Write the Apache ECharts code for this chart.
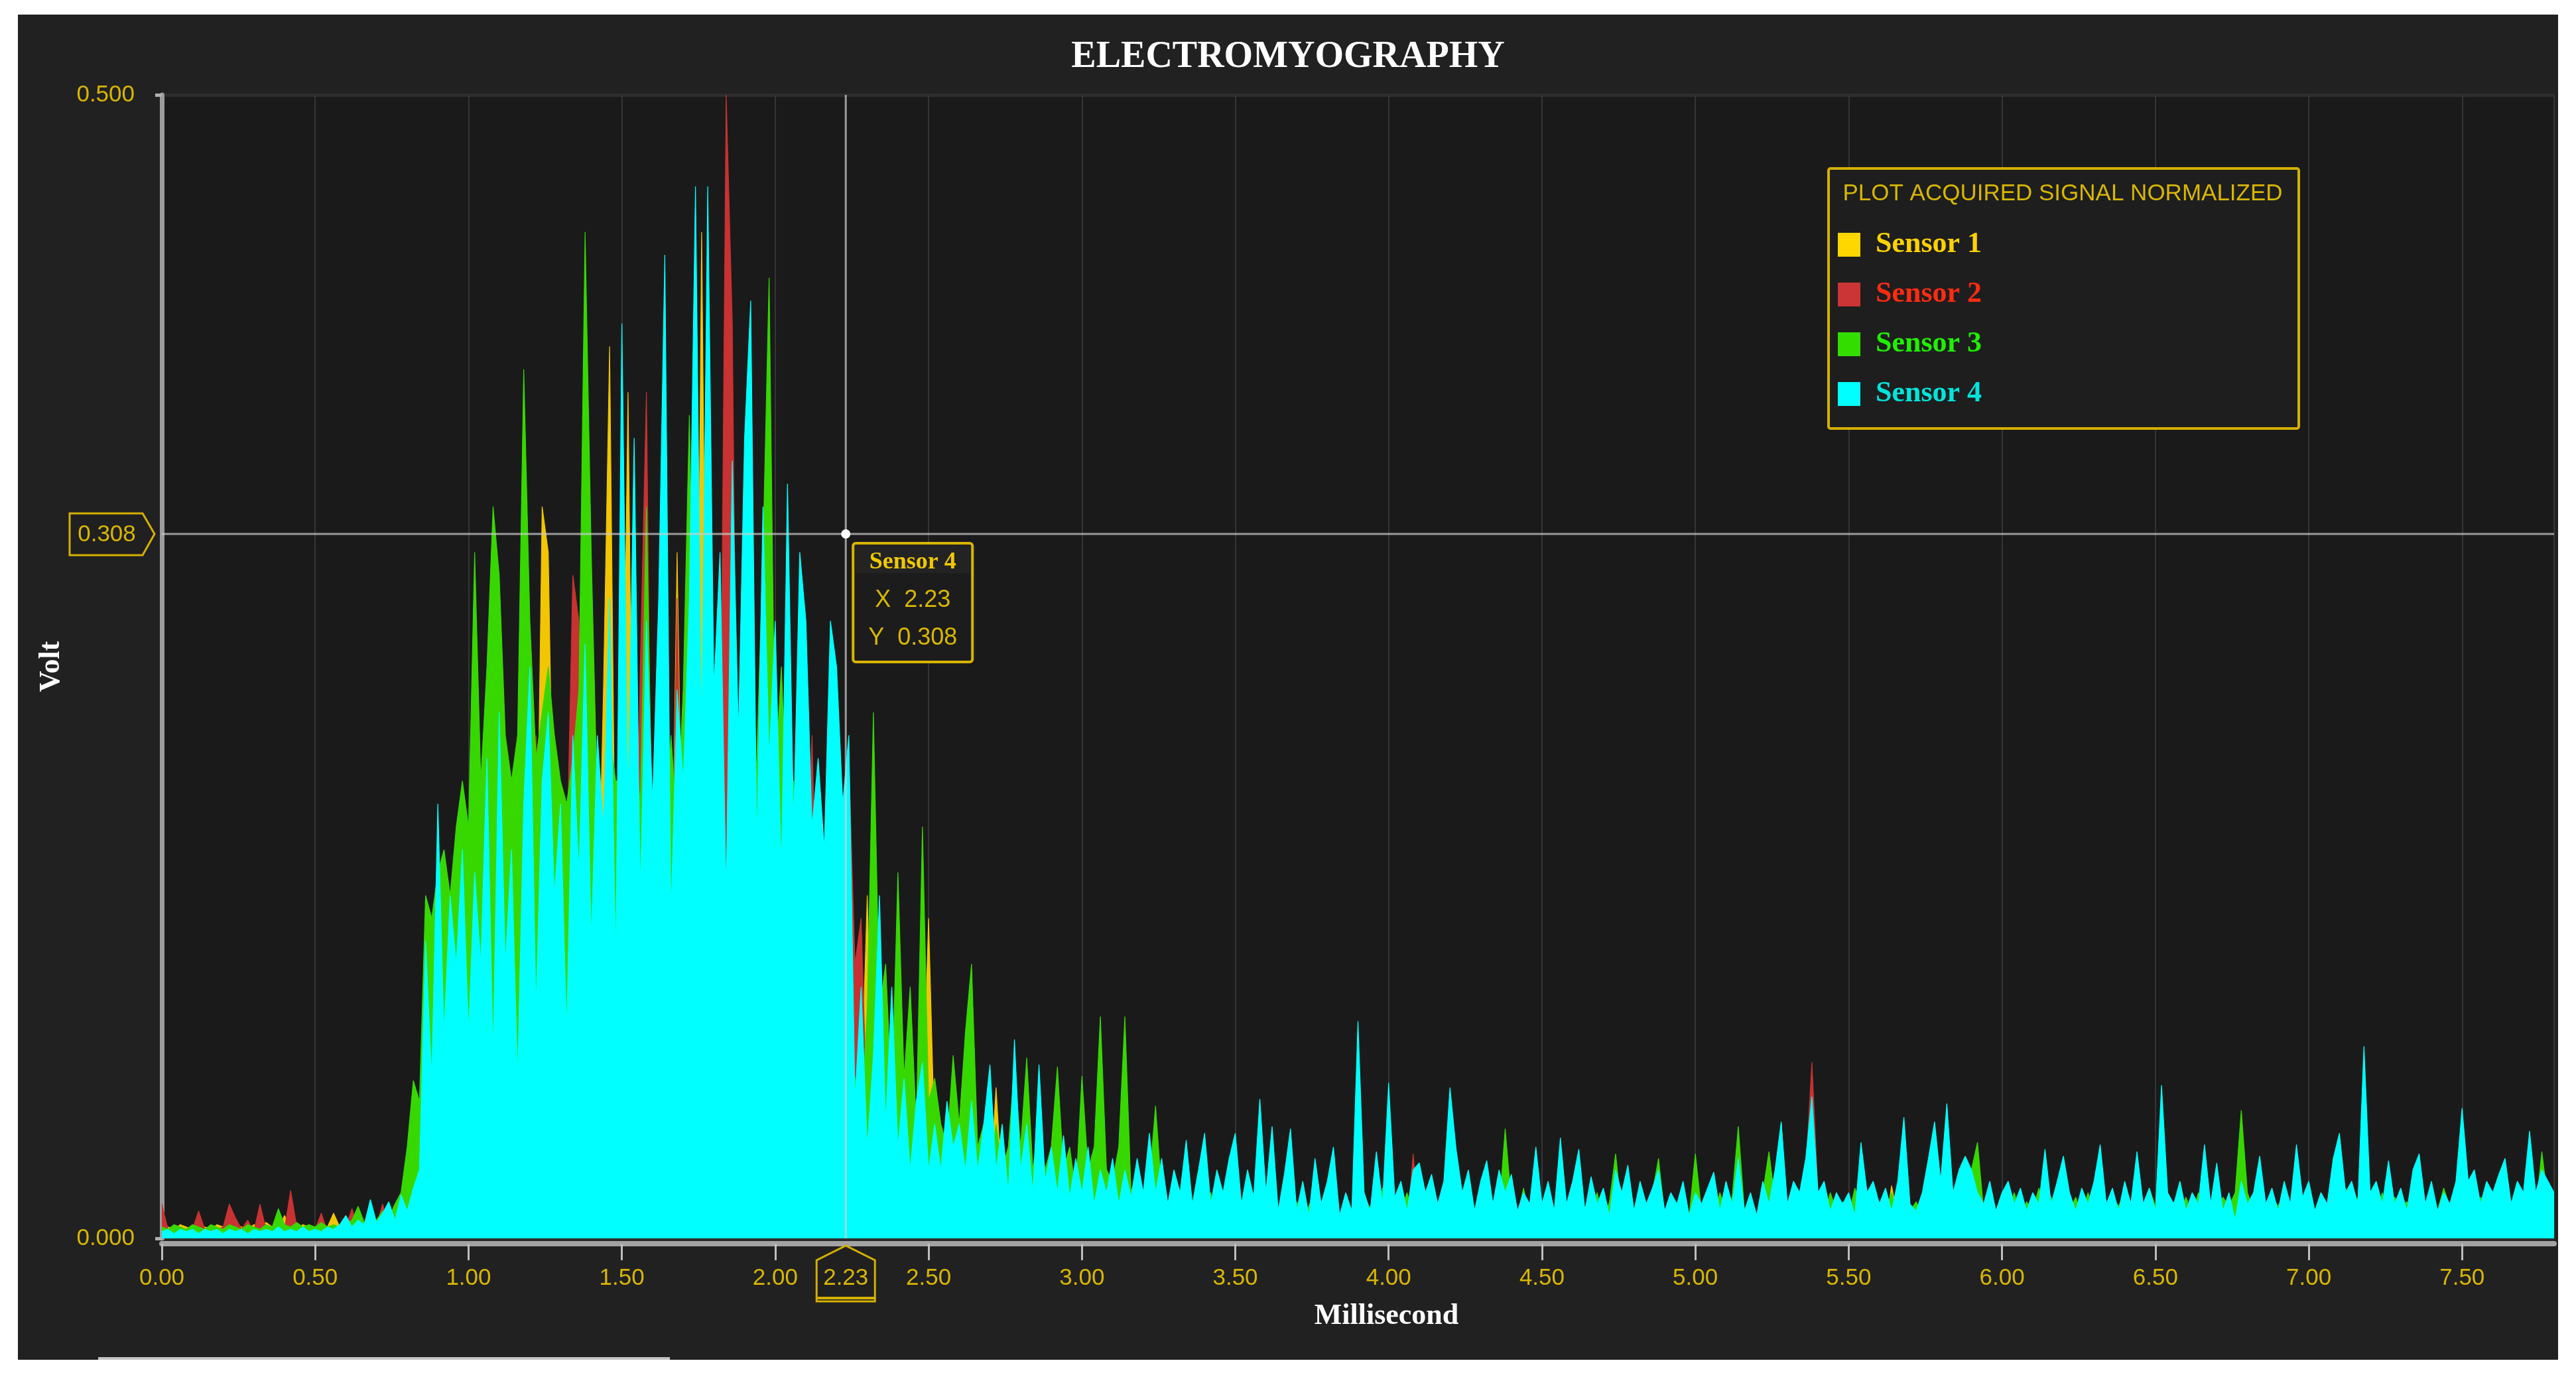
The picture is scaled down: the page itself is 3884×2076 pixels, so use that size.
<!DOCTYPE html>
<html>
<head>
<meta charset="utf-8">
<script src="https://cdn.jsdelivr.net/npm/echarts@6/dist/echarts.min.js"></script>
<style>
html,body{margin:0;padding:0;background:#ffffff;width:3884px;height:2076px;overflow:hidden}
#chart{position:absolute;left:27px;top:22px;width:3830px;height:2028px}
</style>
</head>
<body>
<div id="chart"></div>
<script>
// ---------------- DATA ----------------
const SAMPLE_STEP_MS = 0.02;           // one sample every 0.02 ms, 0.00 .. 7.80
const X_MIN = 0, X_MAX = 7.8, X_INTERVAL = 0.5;
const Y_MIN = 0, Y_MAX = 0.5, Y_INTERVAL = 0.5;
const SENSOR_NAMES = ['Sensor 1', 'Sensor 2', 'Sensor 3', 'Sensor 4'];
const CROSS_SERIES = 'Sensor 4';
const CROSS_X = 2.23;
const CROSS_Y = 0.308;

const SENSOR_1 = [
/*0.00*/ .006,.005,.004,.006,.005,.004,.006,.005,.004,.006,
/*0.20*/ .005,.004,.006,.005,.004,.006,.005,.007,.005,.004,
/*0.40*/ .010,.005,.004,.006,.005,.004,.006,.005,.011,.005,
/*0.60*/ .006,.005,.007,.006,.008,.006,.008,.007,.009,.012,
/*0.80*/ .015,.020,.041,.08,.06,.11,.07,.09,.12,.08,
/*1.00*/ .11,.07,.13,.09,.12,.25,.10,.13,.09,.14,
/*1.20*/ .18,.12,.32,.30,.14,.10,.13,.09,.14,.11,
/*1.40*/ .16,.12,.24,.39,.13,.16,.37,.12,.15,.10,
/*1.60*/ .14,.12,.16,.11,.30,.13,.15,.11,.44,.16,
/*1.80*/ .21,.12,.15,.10,.14,.11,.13,.09,.12,.10,
/*2.00*/ .13,.09,.11,.08,.12,.09,.10,.07,.09,.06,
/*2.20*/ .08,.05,.07,.04,.06,.15,.05,.04,.03,.05,
/*2.40*/ .03,.04,.02,.03,.05,.14,.04,.02,.03,.02,
/*2.60*/ .03,.02,.025,.02,.03,.02,.066,.02,.015,.01,
/*2.80*/ .012,.008,.01,.006,.009,.007,.011,.006,.008,.005,
/*3.00*/ .009,.006,.008,.005,.01,.006,.008,.005,.007,.009,
/*3.20*/ .006,.008,.005,.01,.007,.006,.009,.005,.008,.006,
/*3.40*/ .007,.01,.005,.008,.006,.009,.005,.007,.006,.008,
/*3.60*/ .005,.009,.006,.007,.01,.005,.008,.006,.009,.005,
/*3.80*/ .008,.006,.007,.005,.009,.006,.008,.005,.01,.006,
/*4.00*/ .007,.005,.009,.006,.008,.005,.007,.01,.006,.008,
/*4.20*/ .005,.009,.006,.007,.005,.008,.006,.009,.005,.007,
/*4.40*/ .006,.008,.005,.01,.006,.007,.005,.009,.006,.008,
/*4.60*/ .005,.007,.009,.006,.008,.005,.007,.006,.01,.005,
/*4.80*/ .008,.006,.007,.005,.009,.006,.008,.005,.007,.006,
/*5.00*/ .009,.005,.008,.006,.007,.01,.005,.008,.006,.009,
/*5.20*/ .005,.007,.006,.008,.005,.009,.006,.007,.005,.008,
/*5.40*/ .006,.009,.005,.007,.006,.008,.01,.005,.007,.006,
/*5.60*/ .009,.005,.023,.008,.006,.007,.005,.009,.006,.008,
/*5.80*/ .005,.007,.006,.009,.005,.008,.006,.007,.01,.005,
/*6.00*/ .008,.006,.009,.005,.007,.006,.008,.005,.009,.006,
/*6.20*/ .007,.005,.008,.006,.01,.005,.007,.006,.009,.005,
/*6.40*/ .008,.006,.007,.005,.009,.006,.008,.005,.007,.01,
/*6.60*/ .005,.008,.006,.009,.005,.007,.006,.008,.005,.009,
/*6.80*/ .006,.007,.005,.008,.006,.009,.005,.007,.006,.008,
/*7.00*/ .01,.005,.008,.006,.007,.005,.009,.006,.008,.005,
/*7.20*/ .007,.006,.009,.005,.008,.006,.007,.01,.005,.008,
/*7.40*/ .006,.009,.005,.007,.006,.008,.005,.009,.006,.007,
/*7.60*/ .005,.008,.006,.01,.005,.007,.006,.009,.005,.008,
/*7.80*/ .006
];

const SENSOR_2 = [
/*0.00*/ .015,.004,.003,.005,.003,.004,.012,.004,.003,.004,
/*0.20*/ .005,.015,.009,.004,.008,.003,.015,.004,.003,.005,
/*0.40*/ .004,.021,.005,.004,.003,.004,.011,.003,.004,.003,
/*0.60*/ .005,.013,.004,.005,.004,.006,.015,.005,.006,.008,
/*0.80*/ .010,.020,.030,.08,.05,.10,.06,.12,.18,.07,
/*1.00*/ .09,.05,.11,.06,.12,.07,.10,.05,.13,.08,
/*1.20*/ .12,.22,.10,.14,.09,.12,.16,.29,.27,.10,
/*1.40*/ .13,.08,.12,.09,.14,.10,.13,.09,.25,.37,
/*1.60*/ .12,.10,.14,.11,.28,.12,.10,.15,.09,.13,
/*1.80*/ .11,.18,.50,.40,.12,.15,.10,.14,.29,.12,
/*2.00*/ .10,.13,.09,.12,.10,.14,.22,.10,.08,.11,
/*2.20*/ .07,.09,.21,.12,.14,.05,.03,.02,.025,.015,
/*2.40*/ .02,.012,.018,.01,.015,.008,.012,.01,.014,.008,
/*2.60*/ .012,.006,.01,.008,.012,.006,.01,.008,.012,.006,
/*2.80*/ .009,.005,.011,.006,.008,.004,.01,.006,.007,.005,
/*3.00*/ .008,.004,.01,.006,.009,.005,.007,.004,.011,.006,
/*3.20*/ .007,.005,.009,.004,.008,.006,.01,.005,.007,.004,
/*3.40*/ .009,.006,.008,.004,.01,.005,.007,.006,.009,.004,
/*3.60*/ .008,.005,.011,.006,.007,.004,.009,.005,.008,.006,
/*3.80*/ .01,.004,.007,.005,.009,.006,.008,.004,.01,.005,
/*4.00*/ .007,.006,.009,.005,.037,.006,.008,.004,.01,.005,
/*4.20*/ .007,.004,.009,.006,.008,.005,.01,.004,.007,.006,
/*4.40*/ .009,.005,.008,.004,.01,.006,.007,.005,.009,.004,
/*4.60*/ .008,.006,.01,.005,.007,.004,.009,.006,.008,.005,
/*4.80*/ .01,.004,.007,.006,.009,.005,.008,.004,.01,.006,
/*5.00*/ .007,.005,.009,.004,.008,.006,.01,.005,.007,.004,
/*5.20*/ .009,.006,.008,.005,.01,.004,.007,.006,.03,.077,
/*5.40*/ .02,.006,.008,.004,.01,.005,.007,.006,.009,.004,
/*5.60*/ .008,.005,.01,.006,.007,.004,.009,.005,.008,.006,
/*5.80*/ .01,.004,.007,.005,.009,.006,.008,.004,.01,.005,
/*6.00*/ .007,.006,.009,.005,.008,.004,.01,.006,.007,.005,
/*6.20*/ .009,.004,.008,.006,.01,.005,.007,.004,.009,.006,
/*6.40*/ .008,.005,.01,.004,.007,.006,.009,.005,.008,.004,
/*6.60*/ .01,.006,.007,.005,.009,.004,.008,.006,.01,.005,
/*6.80*/ .007,.004,.009,.006,.008,.005,.01,.004,.007,.006,
/*7.00*/ .009,.005,.008,.004,.01,.006,.007,.005,.009,.004,
/*7.20*/ .008,.006,.01,.005,.007,.004,.009,.006,.008,.005,
/*7.40*/ .01,.004,.007,.006,.009,.005,.008,.004,.01,.006,
/*7.60*/ .007,.005,.009,.004,.008,.006,.01,.005,.007,.004,
/*7.80*/ .008
];

const SENSOR_3 = [
/*0.00*/ .005,.004,.006,.005,.004,.006,.005,.004,.006,.005,
/*0.20*/ .004,.006,.005,.004,.006,.005,.004,.006,.005,.013,
/*0.40*/ .006,.005,.007,.005,.006,.005,.007,.005,.006,.005,
/*0.60*/ .006,.008,.014,.007,.010,.008,.012,.009,.015,.020,
/*0.80*/ .040,.069,.060,.15,.14,.16,.17,.15,.18,.20,
/*1.00*/ .18,.30,.20,.25,.32,.29,.22,.20,.22,.38,
/*1.20*/ .27,.21,.23,.25,.22,.20,.19,.21,.24,.44,
/*1.40*/ .30,.19,.18,.22,.20,.20,.18,.22,.19,.32,
/*1.60*/ .17,.20,.16,.22,.18,.24,.36,.20,.20,.22,
/*1.80*/ .18,.20,.15,.22,.18,.20,.17,.21,.30,.42,
/*2.00*/ .20,.25,.18,.20,.16,.18,.14,.19,.12,.10,
/*2.20*/ .12,.09,.08,.07,.05,.10,.23,.10,.12,.06,
/*2.40*/ .16,.07,.11,.05,.18,.06,.07,.05,.04,.08,
/*2.60*/ .05,.09,.12,.04,.05,.03,.05,.03,.04,.075,
/*2.80*/ .04,.079,.03,.05,.03,.04,.075,.03,.04,.02,
/*3.00*/ .071,.03,.04,.097,.03,.025,.04,.097,.02,.03,
/*3.20*/ .015,.025,.058,.02,.012,.022,.01,.018,.008,.014,
/*3.40*/ .012,.02,.008,.016,.01,.024,.008,.015,.01,.018,
/*3.60*/ .008,.014,.012,.02,.008,.016,.01,.014,.022,.012,
/*3.80*/ .01,.018,.008,.015,.01,.02,.012,.014,.01,.022,
/*4.00*/ .008,.016,.012,.02,.01,.014,.008,.018,.01,.012,
/*4.20*/ .012,.018,.01,.016,.008,.02,.01,.014,.012,.048,
/*4.40*/ .016,.01,.022,.008,.014,.012,.02,.01,.016,.012,
/*4.60*/ .018,.01,.014,.012,.02,.008,.016,.037,.012,.018,
/*4.80*/ .01,.016,.012,.02,.035,.01,.016,.012,.022,.01,
/*5.00*/ .037,.012,.016,.01,.02,.012,.018,.049,.012,.016,
/*5.20*/ .01,.02,.038,.016,.05,.012,.018,.01,.02,.014,
/*5.40*/ .018,.01,.02,.012,.016,.01,.022,.014,.018,.012,
/*5.60*/ .016,.012,.02,.01,.018,.012,.016,.01,.02,.014,
/*5.80*/ .018,.012,.016,.02,.02,.03,.042,.012,.016,.01,
/*6.00*/ .018,.012,.02,.01,.016,.012,.022,.014,.018,.01,
/*6.20*/ .016,.012,.018,.01,.02,.012,.016,.01,.018,.014,
/*6.40*/ .02,.012,.016,.01,.022,.014,.018,.01,.016,.012,
/*6.60*/ .018,.01,.02,.012,.016,.01,.018,.014,.02,.056,
/*6.80*/ .02,.012,.016,.01,.018,.014,.02,.01,.016,.012,
/*7.00*/ .018,.012,.02,.01,.016,.014,.022,.012,.018,.01,
/*7.20*/ .016,.012,.02,.01,.018,.014,.016,.012,.02,.01,
/*7.40*/ .018,.012,.022,.014,.016,.01,.02,.012,.018,.014,
/*7.60*/ .02,.012,.016,.01,.018,.014,.02,.012,.038,.016,
/*7.80*/ .018
];

const SENSOR_4 = [
/*0.00*/ .003,.004,.002,.004,.003,.004,.002,.004,.003,.004,
/*0.20*/ .002,.004,.003,.004,.002,.004,.003,.004,.003,.005,
/*0.40*/ .003,.004,.003,.005,.003,.004,.003,.005,.004,.006,
/*0.60*/ .010,.005,.008,.006,.017,.007,.011,.016,.008,.019,
/*0.80*/ .012,.022,.030,.13,.07,.19,.09,.15,.12,.17,
/*1.00*/ .09,.16,.12,.21,.08,.23,.12,.17,.07,.19,
/*1.20*/ .25,.10,.20,.23,.15,.19,.09,.22,.16,.26,
/*1.40*/ .13,.22,.18,.28,.12,.40,.19,.35,.15,.27,
/*1.60*/ .19,.28,.43,.14,.24,.20,.28,.46,.22,.46,
/*1.80*/ .24,.30,.15,.34,.22,.35,.41,.17,.32,.21,
/*2.00*/ .27,.16,.33,.18,.30,.27,.18,.21,.17,.27,
/*2.20*/ .25,.19,.22,.06,.11,.04,.08,.15,.05,.11,
/*2.40*/ .04,.07,.03,.06,.077,.03,.05,.03,.06,.04,
/*2.60*/ .05,.03,.06,.03,.05,.076,.03,.05,.02,.087,
/*2.80*/ .03,.05,.02,.076,.025,.04,.02,.045,.018,.035,
/*3.00*/ .02,.04,.015,.03,.02,.035,.015,.03,.018,.035,
/*3.20*/ .02,.046,.02,.035,.015,.03,.02,.043,.015,.03,
/*3.40*/ .046,.015,.03,.02,.035,.046,.015,.03,.018,.061,
/*3.60*/ .02,.049,.012,.028,.048,.012,.025,.01,.035,.015,
/*3.80*/ .025,.04,.01,.02,.012,.095,.02,.012,.038,.015,
/*4.00*/ .068,.018,.025,.012,.03,.033,.02,.028,.015,.025,
/*4.20*/ .066,.039,.02,.03,.012,.025,.034,.015,.03,.02,
/*4.40*/ .028,.012,.02,.015,.04,.015,.025,.012,.044,.015,
/*4.60*/ .025,.039,.012,.027,.015,.022,.01,.03,.02,.032,
/*4.80*/ .012,.025,.015,.022,.03,.012,.02,.015,.025,.01,
/*5.00*/ .02,.015,.022,.029,.012,.025,.015,.035,.012,.02,
/*5.20*/ .01,.025,.015,.03,.051,.015,.025,.02,.035,.062,
/*5.40*/ .02,.025,.012,.02,.015,.02,.01,.042,.02,.025,
/*5.60*/ .015,.022,.012,.025,.053,.015,.012,.02,.035,.051,
/*5.80*/ .025,.059,.02,.03,.036,.03,.02,.015,.025,.012,
/*6.00*/ .02,.025,.015,.022,.012,.02,.015,.039,.015,.025,
/*6.20*/ .036,.02,.012,.022,.015,.025,.041,.015,.022,.012,
/*6.40*/ .025,.015,.038,.015,.022,.012,.067,.02,.015,.025,
/*6.60*/ .012,.02,.015,.041,.015,.033,.012,.02,.008,.025,
/*6.80*/ .015,.02,.036,.015,.022,.012,.025,.015,.041,.018,
/*7.00*/ .025,.012,.02,.015,.035,.046,.02,.025,.015,.084,
/*7.20*/ .02,.025,.015,.034,.015,.022,.012,.03,.037,.015,
/*7.40*/ .025,.012,.02,.015,.025,.057,.025,.03,.015,.025,
/*7.60*/ .02,.028,.035,.015,.025,.02,.047,.02,.03,.025,
/*7.80*/ .02
];

const SENSOR_VALUES = [SENSOR_1, SENSOR_2, SENSOR_3, SENSOR_4];

// ---------------- STYLE ----------------
const SERIES_COLORS = ['#F2C600', '#C83232', '#37D800', '#00FFFF'];
const LEGEND_SWATCH = ['#FFD700', '#CC3535', '#33DD00', '#00FFFF'];
const LEGEND_TEXT = ['#FFD200', '#FF2B12', '#1FF000', '#00E5DC'];
const GOLD = '#D8B600';
const SERIF = '"Liberation Serif", "DejaVu Serif", serif';
const SANS = '"Liberation Sans", Arial, sans-serif';

const chart = echarts.init(document.getElementById('chart'), null, {renderer: 'canvas'});

const series = SENSOR_NAMES.map((name, s) => ({
  name: name,
  type: 'line',
  z: 2 + s,
  data: SENSOR_VALUES[s].map((v, i) => [+(i * SAMPLE_STEP_MS).toFixed(2), v]),
  showSymbol: false,
  symbol: 'none',
  smooth: false,
  silent: true,
  color: SERIES_COLORS[s],
  lineStyle: {width: 1.2, color: SERIES_COLORS[s]},
  areaStyle: {opacity: 1, color: SERIES_COLORS[s]}
}));

const option = {
  animation: false,
  backgroundColor: '#212121',
  title: {
    text: 'ELECTROMYOGRAPHY',
    left: 'center',
    top: 37,
    padding: 0,
    textStyle: {color: '#ffffff', fontFamily: SERIF, fontWeight: 'bold', fontSize: 56}
  },
  grid: {
    left: 217, right: 6, top: 121, bottom: 183,
    show: true, backgroundColor: '#1a1a1a', borderWidth: 0
  },
  legend: {
    orient: 'vertical',
    left: 2739, top: 320,
    icon: 'rect',
    itemWidth: 34, itemHeight: 36, itemGap: 31,
    selectedMode: false,
    z: 20,
    textStyle: {fontFamily: SERIF, fontWeight: 'bold', fontSize: 44, padding: [0, 0, 0, 18]},
    data: SENSOR_NAMES.map((n, i) => ({
      name: n,
      itemStyle: {color: LEGEND_SWATCH[i]},
      textStyle: {color: LEGEND_TEXT[i]}
    }))
  },
  xAxis: {
    type: 'value', min: X_MIN, max: X_MAX, interval: X_INTERVAL, offset: 8,
    axisLine: {show: true, onZero: false, lineStyle: {color: '#a3a3a3', width: 8}},
    axisTick: {show: true, length: 25, lineStyle: {color: '#bdbdbd', width: 3}},
    axisLabel: {color: GOLD, fontFamily: SANS, fontSize: 35, margin: 35, showMaxLabel: false,
      formatter: v => v.toFixed(2)},
    splitLine: {show: true, lineStyle: {color: '#353535', width: 2}},
    name: 'Millisecond', nameLocation: 'middle', nameGap: 88,
    nameTextStyle: {color: '#ffffff', fontFamily: SERIF, fontWeight: 'bold', fontSize: 44, padding: [0, 0, 0, 86]}
  },
  yAxis: {
    type: 'value', min: Y_MIN, max: Y_MAX, interval: Y_INTERVAL, offset: 8,
    axisLine: {show: true, lineStyle: {color: '#9c9c9c', width: 7}},
    axisTick: {show: true, length: 10, lineStyle: {color: '#b0b0b0', width: 5}},
    axisLabel: {color: GOLD, fontFamily: SANS, fontSize: 35, margin: 33, formatter: v => v.toFixed(3)},
    splitLine: {show: true, lineStyle: {color: '#2d2d2d', width: 5}},
    name: 'Volt', nameLocation: 'middle', nameGap: 136, nameRotate: 90,
    nameTextStyle: {color: '#ffffff', fontFamily: SERIF, fontWeight: 'bold', fontSize: 44}
  },
  series: series
};
chart.setOption(option);

// ---------- overlay: crosshair, tooltip, pointer labels, legend frame ----------
const p = chart.convertToPixel({gridIndex: 0}, [CROSS_X, CROSS_Y]);
const tl = chart.convertToPixel({gridIndex: 0}, [X_MIN, Y_MAX]);
const br = chart.convertToPixel({gridIndex: 0}, [X_MAX, Y_MIN]);
const px = p[0], py = p[1];
const lineStyle = {stroke: 'rgba(205,205,205,0.72)', lineWidth: 3};

const bx = px + 11, by = py + 14, bw = 180, bh = 179;
const tipX = tl[0] - 11;
const axY = br[1];

const graphics = [
  // legend frame + title
  {type: 'rect', left: 2728, top: 230, z: 10,
    shape: {width: 709, height: 392, r: 3},
    style: {fill: '#1e1e1e', stroke: '#D4B000', lineWidth: 4}},
  {type: 'text', z: 21, x: 3083, y: 270,
    style: {text: 'PLOT ACQUIRED SIGNAL NORMALIZED', fill: GOLD, font: '35px ' + SANS, align: 'center', verticalAlign: 'middle'}},
  // crosshair
  {type: 'line', z: 30, shape: {x1: px, y1: tl[1], x2: px, y2: axY}, style: lineStyle},
  {type: 'line', z: 30, shape: {x1: tl[0], y1: py, x2: br[0], y2: py}, style: lineStyle},
  {type: 'circle', z: 31, shape: {cx: px, cy: py, r: 7}, style: {fill: '#ffffff'}},
  // tooltip box
  {type: 'rect', z: 32, shape: {x: bx, y: by, width: bw, height: bh, r: 4},
    style: {fill: '#1c1c1c', stroke: '#D9B400', lineWidth: 4}},
  {type: 'rect', z: 33, shape: {x: bx + 3, y: by + 3, width: bw - 6, height: 42},
    style: {fill: '#232323'}},
  {type: 'text', z: 34, x: bx + bw / 2, y: by + 29,
    style: {text: CROSS_SERIES, fill: '#F0C800', font: 'bold 36px ' + SERIF, align: 'center', verticalAlign: 'middle'}},
  {type: 'text', z: 34, x: bx + bw / 2, y: by + 86,
    style: {text: 'X  ' + CROSS_X.toFixed(2), fill: GOLD, font: '36px ' + SANS, align: 'center', verticalAlign: 'middle'}},
  {type: 'text', z: 34, x: bx + bw / 2, y: by + 143,
    style: {text: 'Y  ' + CROSS_Y.toFixed(3), fill: GOLD, font: '36px ' + SANS, align: 'center', verticalAlign: 'middle'}},
  // y pointer label
  {type: 'polygon', z: 35,
    shape: {points: [[tipX - 128, py - 31], [tipX - 18, py - 31], [tipX, py], [tipX - 18, py + 32], [tipX - 128, py + 32]]},
    style: {fill: '#202020', stroke: '#D4B000', lineWidth: 3}},
  {type: 'text', z: 36, x: tipX - 72, y: py + 1,
    style: {text: CROSS_Y.toFixed(3), fill: GOLD, font: '35px ' + SANS, align: 'center', verticalAlign: 'middle'}},
  // x pointer label
  {type: 'polygon', z: 35,
    shape: {points: [[px - 44, axY + 95], [px - 44, axY + 33], [px, axY + 11], [px + 44, axY + 33], [px + 44, axY + 95]]},
    style: {fill: '#202020', stroke: '#D4B000', lineWidth: 3}},
  {type: 'line', z: 36, shape: {x1: px - 43, y1: axY + 90, x2: px + 43, y2: axY + 90},
    style: {stroke: '#D4B000', lineWidth: 4}},
  {type: 'text', z: 36, x: px, y: axY + 60,
    style: {text: CROSS_X.toFixed(2), fill: GOLD, font: '35px ' + SANS, align: 'center', verticalAlign: 'middle'}},
  // bottom scroll strip
  {type: 'rect', z: 5, left: 121, top: 2024, shape: {width: 862, height: 4}, style: {fill: '#c4c4c4'}}
];
chart.setOption({graphic: graphics});
</script>
</body>
</html>
